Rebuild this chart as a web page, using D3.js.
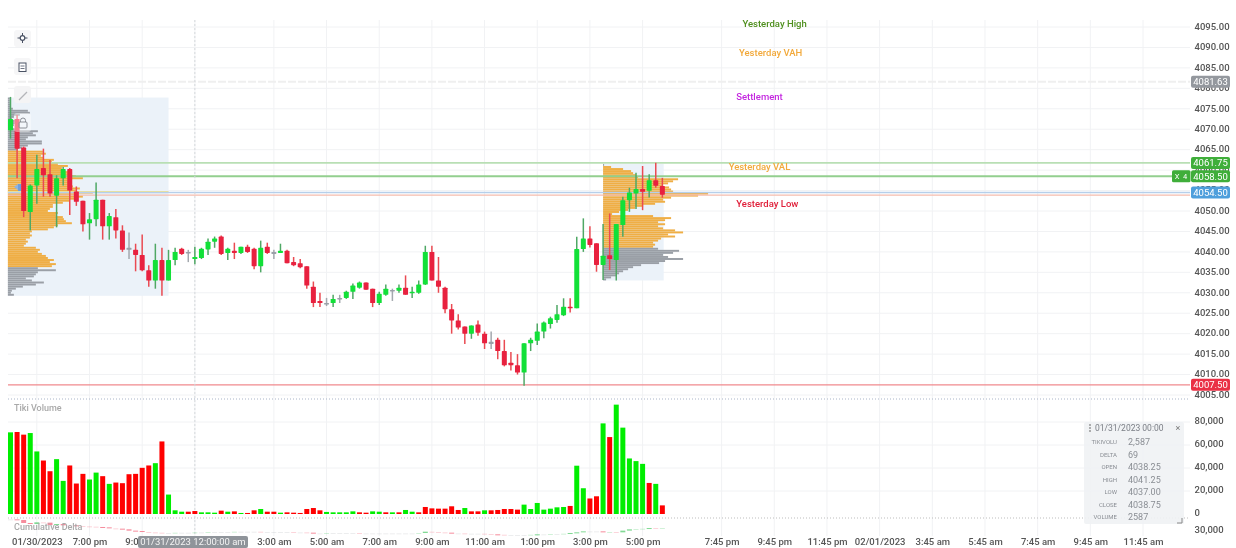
<!DOCTYPE html>
<html>
<head>
<meta charset="utf-8">
<script src="https://cdn.jsdelivr.net/npm/d3@7"></script>
<style>
  html, body { margin: 0; padding: 0; background: #fff; overflow: hidden; }
  svg { display: block; font-family: Roboto, sans-serif; filter: blur(0.5px); }
  .tick text { font-family: Roboto, sans-serif; }
</style>
</head>
<body>
<div id="chart"></div>
<script>
// 15 minute bars, es futures
const opens = [4069.75,4072.5,4065.5,4049.75,4056.25,4060.5,4059,4053.75,4058,4060.25,4054.75,4052.5,4047,4048,4052.75,4046.25,4048.5,4045.25,4041,4040.5,
  4039.25,4035.5,4033,4038,4033,4038,4040.75,4040,4038.25,4038.5,4040.6,4042.5,4043.75,4039.75,4040.25,4039.75,4041.25,4040.75,4036.5,4041.25,
  4040,4039.75,4040.25,4037.5,4037.25,4036.5,4031.5,4028,4027.5,4027.5,4028.75,4028.75,4030.25,4031.25,4032.5,4031,4027.5,4029.5,4030.7,4030.5,
  4031.25,4030,4030,4032,4040,4033,4031.25,4026,4023.25,4021.75,4020,4022.25,4020,4018,4018.5,4015.75,4012.9,4012.25,4010.5,4017.65,
  4018.25,4020.5,4022.35,4023.35,4024.5,4026.6,4026.2,4040.7,4043.3,4042.1,4036.8,4039.2,4038,4046.55,4052.65,4054.3,4055.35,4054.95,4057.55,4056.1];
const highs = [4077.9,4073.5,4065.75,4056.5,4063.75,4065.25,4062.5,4058.75,4060.75,4060.5,4056,4052.5,4049.5,4057,4052.75,4049.5,4050.5,4046.5,4044.75,4042,
  4044.25,4036.75,4042,4041,4040.5,4041,4041,4040.5,4041.25,4041,4043.25,4043.75,4044,4041,4042.25,4041.25,4041.75,4041,4042.75,4042.25,
  4040.5,4042,4040.5,4038.75,4038.25,4036.5,4032.75,4030,4028.75,4029.5,4029.5,4030.5,4032.25,4032.75,4032.5,4031,4030.25,4032,4031,4032,
  4034.25,4031.5,4033,4041.5,4041.5,4038.75,4031.5,4027.25,4024.75,4021.75,4022,4023.25,4020.5,4020.5,4019,4018.5,4015.5,4015,4017.65,4019,
  4022.5,4023,4024.15,4027,4028.65,4028.65,4043.7,4048.2,4046.3,4042.1,4046.8,4049.4,4046.8,4053.5,4055.7,4059.35,4061,4059,4061.8,4058.1];
const lows = [4067.7,4058,4048.5,4045.25,4051.75,4053.5,4053.5,4046,4056.25,4049,4051.25,4045,4043,4046.25,4043,4043,4043.25,4040,4038.25,4035.25,
  4035.25,4031.5,4031,4029.25,4033,4036.75,4039.25,4037.5,4037,4038.25,4039.25,4041,4039.25,4038,4038.25,4039.5,4039.75,4035.75,4035,4039.5,
  4038.25,4039.75,4037.25,4036.5,4036,4031,4026.5,4026.5,4026.75,4026.5,4027.5,4028.5,4028.5,4031,4030.75,4026.5,4027,4029.25,4028,4030,
  4029.5,4028.75,4029.75,4031.9,4033,4030,4025,4020,4021,4017.5,4018.75,4019.5,4016.25,4016.25,4013.75,4012,4011,4010,4007.25,4015.75,
  4017.25,4018.85,4021.25,4022.7,4024.3,4025.15,4026.2,4040,4041.1,4035.15,4033.1,4035.55,4033,4043.7,4049.8,4050.5,4050.2,4053.3,4055.7,4053.25];
const closes = [4072.5,4065.25,4050,4056.25,4060.25,4058.75,4054.25,4058,4060.25,4055,4052.25,4046.75,4048,4052.75,4046.25,4048.75,4045.25,4040.5,4040.5,4039.25,
  4035.5,4033,4038,4033,4038,4040,4039.5,4039.75,4038.75,4040.75,4042.5,4043.25,4039.5,4040.75,4039.75,4041.25,4040,4036.5,4041,4039.75,
  4039.5,4040.25,4037.25,4036.75,4036.25,4031.75,4027.5,4027.5,4027.25,4028.5,4028.75,4030.25,4031.75,4032.5,4030.75,4027.5,4029.75,4031,4030.5,4031.25,
  4029.5,4030.25,4032,4040,4033,4031.5,4026,4023.25,4021.5,4020,4022,4020.25,4017.65,4017.5,4015.75,4012.25,4012.25,4010.5,4017.65,4018.5,
  4020.5,4022.75,4023.75,4024.75,4026.6,4026.2,4040.7,4043.3,4041.7,4036.8,4039.05,4038.25,4046.8,4052.65,4054.55,4055.35,4054.7,4057.55,4056.2,4054];
const dojiBars = [18,27,40,48,50,58,73];

const volumes = [71000,71300,69000,70400,54400,46500,37200,47700,28800,42200,26500,34900,30000,36000,32900,26200,27350,26800,34600,34900,
  40150,42200,44200,63100,16900,3200,2000,2000,2587,1450,1450,1150,2900,2000,2300,900,900,3200,4350,2000,
  2000,1150,1450,1150,900,4350,5200,3200,1800,1450,1450,1450,2300,1450,1150,2300,2000,1450,1450,1450,
  3500,2000,1450,6100,4900,4650,4650,6700,3500,5200,2300,2300,3200,3200,3500,4350,4350,3800,8150,4350,
  9600,3800,4650,5800,6100,7000,42000,22400,13500,15400,78800,66900,95100,75100,48300,46000,43600,27000,26200,7500];
const volumeSides = "grrggrrggrrrggrgrrrrrrgrgggrrgggrgrgrrgrrgrrrrrrgggggrrggrgrggrrrrrrrgrrgrrrrrgggggggrggrrgrgggggrgrr";

const cumDelta = [56400,54500,46400,43600,48200,47300,40900,43600,40000,40000,38200,37300,36400,35500,34500,31800,30900,29100,25500,24500,
  21800,20900,20000,19100,19100,20000,20000,20000,20900,20900,21800,21800,21800,21800,22700,22700,22700,22700,21800,21800,
  21800,21800,21800,20900,20900,20000,18200,18200,19100,19100,19100,19100,19100,18200,18200,18200,18200,18200,18200,18200,
  18200,18200,19100,22700,21800,20900,20000,18200,18200,17300,17300,17300,16400,15500,14500,13600,13600,13600,13600,14500,
  15500,15500,16400,16400,17300,19100,20900,23600,23600,23600,20900,21800,20900,25500,29100,30000,30900,32700,31800,32700];

// volume profiles, rows are half a point apart, top row first
const profileOne = [2,2,2,3,3,5,20,22,12,6,4,8,8,6,5,8,30,25,28,20,18,34,34,20,14,10,
  35,38,33,36,46,44,50,60,54,55,60,62,68,75,60,62,62,65,72,68,85,70,75,70,62,55,45,45,42,40,50,48,55,56,58,64,50,46,40,24,22,24,22,18,20,18,16,28,32,30,34,38,40,46,42,48,44,
  30,48,30,28,26,18,24,36,28,15,8,4,3,6];
const profileTwo = [1,8,20,28,30,33,35,75,70,65,60,66,68,70,105,95,68,60,62,52,40,32,25,16,9,50,68,62,55,62,55,60,72,80,65,72,58,55,50,52,50,
  55,76,70,60,65,80,62,56,38,30,25,20,16,13,8,3];

const priceTicks = d3.range(4005, 4096, 5);
const volumeTicks = [0, 20000, 40000, 60000, 80000];
const timeTicks = [4,12,20,28,40,48,56,64,72,80,88,96,108,116,124,132,140,148,156,164,172];
const timeLabels = ["01/30/2023","7:00 pm","9:00 pm","","3:00 am","5:00 am","7:00 am","9:00 am","11:00 am","1:00 pm","3:00 pm","5:00 pm",
  "7:45 pm","9:45 pm","11:45 pm","02/01/2023","3:45 am","5:45 am","7:45 am","9:45 am","11:45 am"];

const noteNames = ["Yesterday High","Yesterday VAH","Settlement","Yesterday VAL","Yesterday Low"];
const notePrices = [4095.75,4088.65,4077.9,4060.75,4051.7];
const noteBars = [116.05,115.45,113.75,113.75,114.95];
const noteColors = ["#4f8f1e","#f2a93b","#c428e0","#f2a93b","#e0203a"];

const tipNames = ["TIKIVOLU","DELTA","OPEN","HIGH","LOW","CLOSE","VOLUME"];
const tipValues = ["2,587","69","4038.25","4041.25","4037.00","4038.75","2587"];

const width = 1236, height = 548;
const left = 8, right = 1190;

const x = d3.scaleLinear().domain([0, 172]).range([10.5, 1143]);
const y = d3.scaleLinear().domain([4095, 4005]).range([27, 395]);
const yVol = d3.scaleLinear().domain([0, 80000]).range([514, 422]);
const yDelta = d3.scaleLinear().domain([0, 60000]).range([540, 518]);
const profileLen = d3.scaleLinear().domain([0, 100]).range([0, 100]);

const svg = d3.select("#chart").append("svg")
  .attr("width", width).attr("height", height)
  .attr("viewBox", [0, 0, width, height]);

// grid
svg.append("g")
  .selectAll("line.v").data(timeTicks).join("line")
  .attr("x1", d => x(d)).attr("x2", d => x(d))
  .attr("y1", 20).attr("y2", 536)
  .attr("stroke", "#f1f2f4");
svg.append("g")
  .selectAll("line").data(priceTicks).join("line")
  .attr("x1", left).attr("x2", right)
  .attr("y1", d => y(d)).attr("y2", d => y(d))
  .attr("stroke", "#f1f2f4");
svg.append("g")
  .selectAll("line").data(volumeTicks.slice(1)).join("line")
  .attr("x1", left).attr("x2", right)
  .attr("y1", d => yVol(d)).attr("y2", d => yVol(d))
  .attr("stroke", "#f1f2f4");

// volume profile blocks
function drawProfile(rows, topPrice, startBar, endBar, vaHigh, vaLow) {
  const lowPrice = topPrice - (rows.length - 1) * 0.5;
  const g = svg.append("g");
  g.append("rect")
    .attr("x", x(startBar)).attr("width", x(endBar) - x(startBar))
    .attr("y", y(topPrice)).attr("height", y(lowPrice) - y(topPrice) + 2)
    .attr("fill", "#ebf2f9");
  g.selectAll("rect.row").data(rows).join("rect")
    .attr("class", "row")
    .attr("x", x(startBar))
    .attr("y", (d, i) => y(topPrice - i * 0.5))
    .attr("width", d => profileLen(d))
    .attr("height", 1.95)
    .attr("fill", (d, i) => {
      const p = topPrice - i * 0.5;
      return p <= vaHigh && p >= vaLow ? "#efae45" : "#9a9fa6";
    });
}
drawProfile(profileOne, 4077.75, -0.4, 24, 4064.75, 4036.75);
drawProfile(profileTwo, 4061.5, 90, 99.2, 4061.25, 4041.5);

// point of control stubs
svg.append("line")
  .attr("x1", x(-0.4)).attr("x2", x(24))
  .attr("y1", y(4054.75)).attr("y2", y(4054.75))
  .attr("stroke", "#f5e58a").attr("stroke-width", 1.4);

// levels
const levelPrices = [4081.63, 4061.75, 4058.5, 4054.5, 4053.9, 4007.5];
const levelColors = ["#efefef", "#b9dfb4", "#93cf8f", "#b6cfea", "#f5bcae", "#f08a8e"];
const levelWidths = [2, 1.8, 1.8, 1.5, 1.3, 1.3];
svg.append("g")
  .selectAll("line").data(levelPrices).join("line")
  .attr("x1", left).attr("x2", right)
  .attr("y1", d => y(d)).attr("y2", d => y(d))
  .attr("stroke", (d, i) => levelColors[i])
  .attr("stroke-width", (d, i) => levelWidths[i])
  .attr("stroke-dasharray", (d, i) => i === 0 ? "8,2" : null);

// pane separators
svg.append("line").attr("x1", left).attr("x2", right).attr("y1", 399).attr("y2", 399)
  .attr("stroke", "#a9b4c8").attr("stroke-dasharray", "1,2");
svg.append("line").attr("x1", left).attr("x2", right).attr("y1", 518).attr("y2", 518)
  .attr("stroke", "#bdbdbd").attr("stroke-dasharray", "1,2");

// crosshair
svg.append("line").attr("x1", x(28)).attr("x2", x(28)).attr("y1", 20).attr("y2", 536)
  .attr("stroke", "#d5d8dc").attr("stroke-dasharray", "2,2");

// candles
const barColor = i => dojiBars.includes(i) ? "#9aa0a8" : closes[i] >= opens[i] ? "#12e038" : "#e8213f";
const wickColor = i => dojiBars.includes(i) ? "#a3a8ae" : closes[i] >= opens[i] ? "#4fa865" : "#ea4a52";
const bars = svg.append("g").selectAll("g").data(d3.range(opens.length)).join("g");
bars.append("line")
  .attr("x1", i => x(i)).attr("x2", i => x(i))
  .attr("y1", i => y(highs[i])).attr("y2", i => y(lows[i]))
  .attr("stroke", wickColor).attr("stroke-width", 1.5);
bars.append("rect")
  .attr("x", i => x(i) - 2.5).attr("width", 5)
  .attr("y", i => y(Math.max(opens[i], closes[i])))
  .attr("height", i => Math.max(1.5, Math.abs(y(opens[i]) - y(closes[i]))))
  .attr("rx", 0.6)
  .attr("fill", barColor);

// tiki volume
svg.append("g").selectAll("rect").data(volumes).join("rect")
  .attr("x", (d, i) => x(i) - 2.5).attr("width", 5)
  .attr("y", d => yVol(d))
  .attr("height", d => yVol(0) - yVol(d))
  .attr("fill", (d, i) => volumeSides[i] === "g" ? "#00ee00" : "#ff0000");

// cumulative delta
const prevDelta = i => i ? cumDelta[i - 1] : cumDelta[i];
svg.append("g").selectAll("rect").data(cumDelta).join("rect")
  .attr("x", (d, i) => x(i) - 2.5).attr("width", 5)
  .attr("y", (d, i) => Math.min(yDelta(d), yDelta(prevDelta(i))))
  .attr("height", (d, i) => Math.max(1, Math.abs(yDelta(d) - yDelta(prevDelta(i)))))
  .attr("fill", (d, i) => d > prevDelta(i) ? "#2fbf4f" : d < prevDelta(i) ? "#f0405a" : "#a8adb3")
  .attr("opacity", (d, i) => Math.abs(d - prevDelta(i)) < 1000 ? 0.22 : 0.6);

// pane titles
svg.append("text").attr("x", 14).attr("y", 411).text("Tiki Volume")
  .attr("font-size", 9).attr("font-weight", 500).attr("fill", "#a9a9a9");
svg.append("text").attr("x", 14).attr("y", 530).text("Cumulative Delta")
  .attr("font-size", 9).attr("font-weight", 500).attr("fill", "#a9a9a9");

// notes
svg.append("g").selectAll("text").data(noteNames).join("text")
  .attr("x", (d, i) => x(noteBars[i]))
  .attr("y", (d, i) => y(notePrices[i]) + 3)
  .attr("text-anchor", "middle")
  .attr("font-size", 9.5).attr("font-weight", 500)
  .attr("fill", (d, i) => noteColors[i])
  .text(d => d);

// axes
const priceAxis = svg.append("g").attr("transform", `translate(${right + 4.5},-0.8)`)
  .call(d3.axisRight(y).tickValues(priceTicks).tickSize(0).tickPadding(0).tickFormat(d3.format(".2f")));
const volAxis = svg.append("g").attr("transform", `translate(${right + 4.5},-1.6)`)
  .call(d3.axisRight(yVol).tickValues(volumeTicks).tickSize(0).tickPadding(0).tickFormat(d3.format(",")));
const deltaAxis = svg.append("g").attr("transform", `translate(${right + 4.5},0)`)
  .call(d3.axisRight(yDelta).tickValues([30000]).tickSize(0).tickPadding(0).tickFormat(d3.format(",")));
const timeAxis = svg.append("g").attr("transform", "translate(0,536)")
  .call(d3.axisBottom(x).tickValues(timeTicks).tickSize(0).tickPadding(2)
    .tickFormat(d => timeLabels[timeTicks.indexOf(d)]));
[priceAxis, volAxis, deltaAxis, timeAxis].forEach(a => {
  a.select(".domain").remove();
  a.selectAll("text").attr("font-size", 9.5).attr("fill", "#555").attr("font-weight", 500);
});

// crosshair label
svg.append("rect").attr("x", 138).attr("y", 536).attr("width", 110).attr("height", 12).attr("rx", 2)
  .attr("fill", "#8f949a");
svg.append("text").attr("x", 193).attr("y", 545).attr("text-anchor", "middle")
  .attr("font-size", 9.5).attr("fill", "#f4f4f4").text("01/31/2023 12:00:00 am");

// price tags
const tagPrices = [4081.63, 4061.75, 4058.5, 4054.5, 4007.5];
const tagTexts = ["4081.63", "4061.75", "4058.50", "4054.50", "4007.50"];
const tagColors = ["#94989e", "#3fae3a", "#3fae3a", "#4e9fdc", "#ea3045"];
const tags = svg.append("g").selectAll("g").data(tagPrices).join("g")
  .attr("transform", d => `translate(1191,${y(d)})`);
tags.append("rect").attr("x", 0).attr("y", -6).attr("width", 39).attr("height", 12).attr("rx", 2)
  .attr("fill", (d, i) => tagColors[i]);
tags.append("text").attr("x", 19.5).attr("y", 3.3).attr("text-anchor", "middle")
  .attr("font-size", 9.5).attr("fill", "#fff").text((d, i) => tagTexts[i]);
svg.append("rect").attr("x", 1172).attr("y", y(4058.5) - 6).attr("width", 18.5).attr("height", 12).attr("rx", 1.5)
  .attr("fill", "#3fae3a");
svg.append("text").attr("x", 1181).attr("y", y(4058.5) + 3).attr("text-anchor", "middle")
  .attr("font-size", 7.5).attr("fill", "#fff").attr("xml:space", "preserve").text("X  4");

// data window
const tip = svg.append("g");
tip.append("rect").attr("x", 1084).attr("y", 422).attr("width", 100).attr("height", 102).attr("rx", 2)
  .attr("fill", "#f0f2f4").attr("opacity", 0.92);
tip.append("text").attr("x", 1095).attr("y", 431).attr("font-size", 8.5).attr("fill", "#7a7e85").text("01/31/2023 00:00");
tip.append("text").attr("x", 1178).attr("y", 431).attr("text-anchor", "middle").attr("font-size", 9).attr("fill", "#777").text("×");
tip.selectAll("circle").data([425, 428, 431]).join("circle")
  .attr("cx", 1090).attr("cy", d => d).attr("r", 0.8).attr("fill", "#555");
tip.selectAll("text.name").data(tipNames).join("text")
  .attr("class", "name")
  .attr("x", 1117).attr("y", (d, i) => 444 + i * 12.5)
  .attr("text-anchor", "end").attr("font-size", 6).attr("fill", "#8a8e94").text(d => d);
tip.selectAll("text.val").data(tipValues).join("text")
  .attr("class", "val")
  .attr("x", 1128).attr("y", (d, i) => 445 + i * 12.5)
  .attr("font-size", 9).attr("fill", "#8a8e94").text(d => d);
tip.append("path").attr("d", "M1182 518v5h-5").attr("fill", "none").attr("stroke", "#888");

// left toolbar
const tools = svg.append("g");
tools.append("rect").attr("x", 14).attr("y", 30).attr("width", 17).attr("height", 17).attr("rx", 3).attr("fill", "#f6f6f7");
tools.append("rect").attr("x", 14).attr("y", 58).attr("width", 17).attr("height", 17).attr("rx", 3).attr("fill", "#f6f6f7");
tools.append("rect").attr("x", 14).attr("y", 86).attr("width", 17).attr("height", 17).attr("rx", 3).attr("fill", "#f4f4f5");
tools.append("rect").attr("x", 14).attr("y", 113).attr("width", 17).attr("height", 19).attr("rx", 3).attr("fill", "#fff").attr("opacity", 0.42);
tools.append("path").attr("d", "M22.5 33v10M17.5 38h10").attr("stroke", "#4a5264").attr("stroke-width", 1);
tools.append("circle").attr("cx", 22.5).attr("cy", 38).attr("r", 2.3).attr("fill", "#fff").attr("stroke", "#4a5264").attr("stroke-width", 1.2);
tools.append("rect").attr("x", 19).attr("y", 63).attr("width", 7).attr("height", 8.5).attr("fill", "#fff").attr("stroke", "#4a5264");
tools.append("path").attr("d", "M20.5 66h4M20.5 68.5h4").attr("stroke", "#4a5264").attr("stroke-width", 0.8);
tools.append("path").attr("d", "M19 100l8-8").attr("stroke", "#b3b5b9").attr("stroke-width", 1.2);
tools.append("rect").attr("x", 19).attr("y", 122).attr("width", 8).attr("height", 6).attr("rx", 1).attr("fill", "none").attr("stroke", "#8b8f96");
tools.append("path").attr("d", "M20.5 122v-1.5a2.5 2.5 0 0 1 5 0v1.5").attr("fill", "none").attr("stroke", "#8b8f96");
tools.append("path").attr("d", "M14 187l4-3v6z").attr("fill", "#8fb4e4");
tools.append("rect").attr("x", 18).attr("y", 184).attr("width", 3).attr("height", 7).attr("fill", "#6f9fdc");
</script>
</body>
</html>
